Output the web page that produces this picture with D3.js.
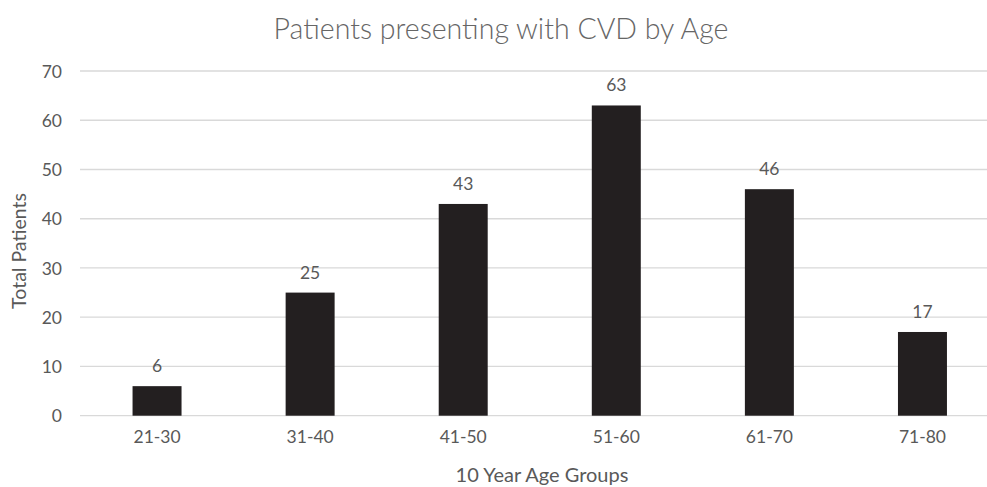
<!DOCTYPE html>
<html>
<head>
<meta charset="utf-8">
<script src="https://cdn.jsdelivr.net/npm/d3@7"></script>
<style>
  html, body { margin: 0; padding: 0; background: #fff; }
  svg { display: block; }
  text { font-family: Lato, "Open Sans", sans-serif; fill: #595959; }
</style>
</head>
<body>
<svg id="chart" width="987" height="487"></svg>
<script>
// Patients with CVD, grouped in 10-year age bands
const ageGroups = ["21-30", "31-40", "41-50", "51-60", "61-70", "71-80"];
const patients = [6, 25, 43, 63, 46, 17];
const yTicks = [0, 10, 20, 30, 40, 50, 60, 70];

const svg = d3.select("#chart");
const W = 987, H = 487;

const x = d3.scaleBand().domain(ageGroups).range([80.5, 999]).paddingInner(0.68).paddingOuter(0.34);
const y = d3.scaleLinear().domain([0, 70]).range([415.7, 71]);

// horizontal gridlines
svg.append("g")
  .selectAll("line")
  .data(yTicks)
  .join("line")
  .attr("x1", 80).attr("x2", W)
  .attr("y1", d => y(d)).attr("y2", d => y(d))
  .attr("stroke", "#d9d9d9").attr("stroke-width", 1.3);

// y axis labels
const yAxis = d3.axisLeft(y).tickValues(yTicks).tickSize(0).tickPadding(0);
const gy = svg.append("g").attr("transform", "translate(62,0)").call(yAxis);
gy.select(".domain").remove();
gy.selectAll("text").style("font-size", "17.5px").attr("fill", "#595959").attr("dy", "0.35em");

// bars
svg.append("g")
  .selectAll("rect")
  .data(ageGroups.map((g, i) => ({ g, v: patients[i] })))
  .join("rect")
  .attr("x", d => x(d.g))
  .attr("width", x.bandwidth())
  .attr("y", d => y(d.v))
  .attr("height", d => y(0) - y(d.v))
  .attr("fill", "#231f20");

// value labels
svg.append("g")
  .selectAll("text")
  .data(ageGroups.map((g, i) => ({ g, v: patients[i] })))
  .join("text")
  .attr("x", d => x(d.g) + x.bandwidth() / 2)
  .attr("y", d => y(d.v) - 14)
  .attr("text-anchor", "middle")
  .style("font-size", "17.5px")
  .text(d => d.v);

// x axis labels
const xAxis = d3.axisBottom(x).tickSize(0).tickPadding(0);
const gx = svg.append("g").attr("transform", "translate(0,432)").call(xAxis);
gx.select(".domain").remove();
gx.selectAll("text").style("font-size", "17.5px").attr("fill", "#595959").attr("dy", "0.65em");

// title
svg.append("text")
  .attr("x", 501).attr("y", 39)
  .attr("text-anchor", "middle")
  .style("font-size", "28.5px")
  .style("font-weight", 300)
  .attr("fill", "#666")
  .style("fill", "#666")
  .text("Patients presenting with CVD by Age");

// axis titles
svg.append("text")
  .attr("x", 542).attr("y", 482)
  .attr("text-anchor", "middle")
  .style("font-size", "20px")
  .text("10 Year Age Groups");

svg.append("text")
  .attr("transform", "translate(26,251) rotate(-90)")
  .attr("text-anchor", "middle")
  .style("font-size", "19.5px")
  .text("Total Patients");
</script>
</body>
</html>
